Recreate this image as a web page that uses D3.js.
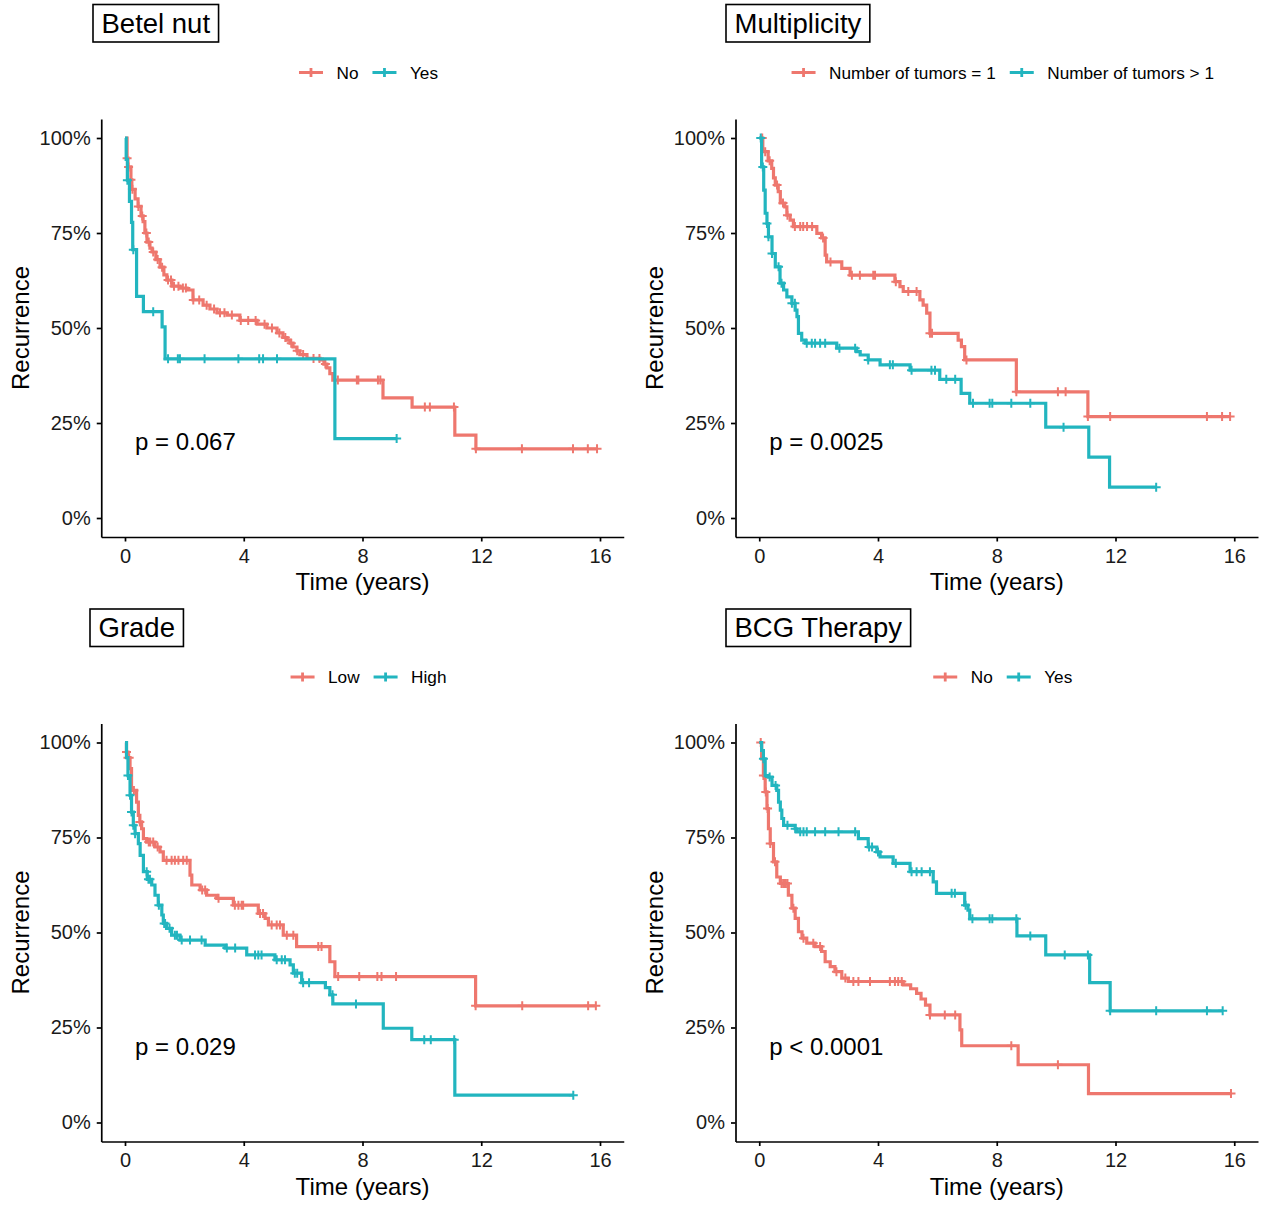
<!DOCTYPE html>
<html>
<head>
    <meta charset='utf-8'>
    <title>Recurrence curves</title>
    <style>
        body { margin: 0; background: #fff; }
        svg { display: block; font-family: "Liberation Sans", Arial, sans-serif; }
    </style>
</head>
<body>
<svg width="1269" height="1209"></svg>
<script src="https://d3js.org/d3.v7.min.js"></script>
<script>
    // step curves: start time of each step and the survival (%) after it,
    // plus the times of the censoring marks
    const betelNoT = [0, 0.07, 0.1, 0.2, 0.23, 0.34, 0.44, 0.54, 0.61, 0.67, 0.74, 0.84, 0.91, 1.04, 1.18, 1.31, 1.41, 1.58, 1.85, 2.09, 2.29, 2.63, 2.86, 3.1, 3.44, 3.87, 4.45, 4.78, 5.12, 5.32, 5.46, 5.56, 5.66, 5.79, 5.89, 6.13, 6.57, 6.7, 6.8, 6.9, 7.0, 8.69, 9.67, 11.11, 11.82]
    const betelNoS = [100, 94.7, 92.4, 89, 86.5, 84, 82, 79.5, 78, 75, 72.6, 71, 70, 68, 66, 64, 62.6, 61, 60.5, 60, 57.4, 56, 55, 54, 53.4, 52, 51, 50, 48.7, 47.5, 46.8, 46, 45, 44, 43, 42, 41.6, 40.5, 39.5, 38, 36.3, 31.6, 29.2, 21.8, 18.2]
    const betelNoCens = [0.07, 0.12, 0.2, 0.25, 0.45, 0.58, 0.72, 0.8, 0.95, 1.1, 1.25, 1.45, 1.55, 1.65, 1.8, 1.95, 2.05, 2.3, 2.5, 2.75, 3.0, 3.2, 3.35, 3.6, 3.9, 4.15, 4.4, 4.7, 4.95, 5.2, 5.4, 5.6, 5.8, 6.0, 6.35, 6.55, 6.75, 7.17, 7.81, 7.86, 8.52, 8.6, 10.1, 10.27, 11.08, 11.82, 13.37, 15.09, 15.59, 15.9]
    const betelYesT = [0, 0.04, 0.08, 0.15, 0.22, 0.26, 0.39, 0.62, 1.25, 1.35, 7.07]
    const betelYesS = [100, 94.4, 88.9, 83.3, 77.8, 70.6, 58.3, 54.3, 50.3, 41.9, 20.9]
    const betelYesCens = [0.08, 0.28, 0.95, 1.45, 1.78, 1.85, 2.68, 3.82, 4.52, 4.65, 5.12, 9.15]

    const multiOneT = [0, 0.12, 0.3, 0.42, 0.48, 0.54, 0.64, 0.71, 0.86, 0.93, 1.04, 1.15, 1.94, 2.1, 2.22, 2.27, 2.78, 3.06, 4.57, 4.74, 4.85, 5.41, 5.52, 5.64, 5.75, 6.7, 6.81, 6.92, 8.66, 11.07]
    const multiOneS = [100, 96.4, 94, 92, 89.5, 87.6, 85.9, 82.9, 81.9, 79.7, 78.4, 76.7, 74.9, 73.7, 69.2, 67.4, 65.7, 63.9, 62.2, 60.9, 59.6, 57.4, 56, 53.9, 48.6, 46.8, 45.1, 41.6, 33.2, 26.7]
    const multiOneCens = [0.1, 0.2, 0.35, 0.6, 0.8, 0.95, 1.2, 1.38, 1.48, 1.61, 1.78, 2.15, 2.4, 3.12, 3.39, 3.84, 3.9, 4.6, 5.02, 5.3, 5.75, 5.82, 6.98, 8.66, 10.06, 10.32, 11.07, 11.82, 15.08, 15.59, 15.86]
    const multiManyT = [0, 0.08, 0.15, 0.2, 0.26, 0.31, 0.43, 0.54, 0.7, 0.82, 0.93, 1.1, 1.21, 1.27, 1.32, 1.43, 1.55, 2.61, 3.28, 3.4, 3.67, 4.07, 5.08, 6.08, 6.8, 7.09, 9.65, 11.1, 11.8]
    const multiManyS = [100, 92.4, 86.3, 80.2, 77.5, 74, 69.6, 66.1, 61.8, 60, 58.2, 56.5, 54.7, 53, 48.6, 46.8, 46, 44.7, 43.8, 42.9, 41.6, 40.3, 38.9, 36.5, 32.8, 30.2, 23.9, 16, 8.1]
    const multiManyCens = [0.05, 0.12, 0.26, 0.31, 0.43, 0.65, 0.75, 1.1, 1.2, 1.6, 1.77, 1.88, 2.05, 2.22, 2.7, 3.23, 3.67, 4.4, 4.5, 5.13, 5.8, 5.92, 6.3, 6.6, 7.2, 7.76, 7.85, 8.49, 9.13, 10.25, 13.37]

    const gradeLowT = [0, 0.05, 0.1, 0.17, 0.22, 0.39, 0.45, 0.5, 0.56, 0.62, 0.73, 1.01, 1.18, 1.29, 2.19, 2.25, 2.53, 2.75, 3.09, 3.65, 4.49, 4.72, 4.83, 5.33, 5.78, 6.9, 7.07, 11.81]
    const gradeLowS = [100, 97.5, 96, 93.1, 87.4, 84.3, 80.8, 79.1, 77.3, 74.7, 73.8, 72.5, 71.2, 69, 65.1, 62.5, 61.2, 59.8, 59, 57.2, 55, 53.7, 52, 49.3, 46.3, 42.3, 38.4, 30.7]
    const gradeLowCens = [0.05, 0.1, 0.14, 0.3, 0.5, 0.8, 0.85, 0.95, 1.1, 1.4, 1.57, 1.68, 1.8, 1.96, 2.08, 2.6, 2.7, 3.15, 3.7, 3.82, 3.93, 3.98, 4.55, 4.65, 4.94, 5.11, 5.22, 5.45, 5.67, 6.51, 6.62, 7.18, 7.89, 8.5, 8.64, 9.13, 11.81, 13.38, 15.6, 15.86]
    const gradeHighT = [0, 0.05, 0.1, 0.17, 0.22, 0.28, 0.34, 0.45, 0.51, 0.62, 0.75, 0.9, 1.01, 1.12, 1.24, 1.29, 1.4, 1.57, 1.85, 2.7, 3.37, 4.1, 5.05, 5.56, 5.67, 5.95, 6.75, 6.9, 7.0, 8.7, 9.66, 11.11]
    const gradeHighS = [100, 96, 91.3, 86.1, 81.7, 78.2, 76, 73.4, 70.3, 66, 64, 62.5, 59.8, 57.2, 54.6, 52.4, 51.1, 49.3, 48, 46.7, 45.9, 44.1, 42.8, 41.5, 39.3, 36.8, 35.5, 33.6, 31.2, 24.8, 21.8, 7.2]
    const gradeHighCens = [0.1, 0.17, 0.22, 0.28, 0.34, 0.73, 0.79, 0.84, 1.14, 1.32, 1.35, 1.5, 1.68, 1.75, 1.91, 2.19, 2.58, 3.43, 3.71, 4.38, 4.49, 4.6, 5.11, 5.28, 5.39, 5.72, 5.8, 6.0, 6.2, 6.99, 7.78, 10.08, 10.3, 11.09, 15.1]

    const bcgNoT = [0, 0.08, 0.14, 0.2, 0.26, 0.31, 0.37, 0.48, 0.59, 0.71, 0.98, 1.1, 1.21, 1.32, 1.44, 1.6, 1.88, 2.1, 2.22, 2.39, 2.55, 2.78, 3.0, 4.85, 5.1, 5.3, 5.45, 5.6, 5.75, 6.76, 6.82, 8.72, 11.09]
    const bcgNoS = [100, 95.7, 91.3, 87, 82.6, 77.3, 73.4, 68.6, 64.6, 62.9, 59.8, 56.4, 53.7, 50.2, 48.5, 47.2, 46.3, 45, 42.3, 41, 39.7, 38, 37.1, 36.2, 35.2, 34, 32.5, 30.9, 28.3, 24.4, 20.2, 15.2, 7.6]
    const bcgNoCens = [0.05, 0.14, 0.22, 0.28, 0.37, 0.53, 0.75, 0.82, 0.88, 0.95, 1.15, 1.49, 1.82, 2.05, 2.6, 2.9, 3.17, 3.34, 3.73, 4.4, 4.57, 4.68, 4.8, 5.75, 6.25, 6.6, 8.49, 10.06, 15.89]
    const bcgYesT = [0, 0.08, 0.14, 0.2, 0.31, 0.43, 0.59, 0.65, 0.71, 0.76, 0.82, 1.21, 1.27, 3.34, 3.67, 3.96, 4.07, 4.51, 5.08, 5.86, 5.97, 6.92, 7.03, 7.09, 8.68, 9.65, 11.13, 11.82]
    const bcgYesS = [100, 97.9, 95.7, 91.3, 90.9, 88.7, 87.4, 84.3, 82.2, 80, 78.2, 77.3, 76.5, 74.7, 72.5, 71.2, 69.9, 68.2, 66, 63.3, 60.3, 57.2, 55.9, 53.6, 49.1, 44.1, 36.8, 29.4]
    const bcgYesCens = [0.14, 0.35, 0.55, 0.95, 1.21, 1.38, 1.49, 1.6, 1.88, 2.22, 2.67, 3.23, 3.7, 3.8, 4.0, 4.6, 5.13, 5.3, 5.47, 5.75, 6.48, 6.59, 6.95, 7.18, 7.76, 7.85, 8.66, 9.13, 10.29, 11.07, 11.82, 13.37, 15.08, 15.61]

    const titles = ["Betel nut", "Multiplicity", "Grade", "BCG Therapy"]
    const groupLabels = [["No", "Yes"], ["Number of tumors = 1", "Number of tumors > 1"], ["Low", "High"], ["No", "Yes"]]
    const pLabels = ["p = 0.067", "p = 0.0025", "p = 0.029", "p < 0.0001"]
    const xTicks = [0, 4, 8, 12, 16]
    const yTicks = [0, 0.25, 0.5, 0.75, 1]

    const colors = ["#EE776E", "#22B5BF"]
    const font = "\"Liberation Sans\", Arial, sans-serif"

    const panels = [
        {curves: [[betelNoT, betelNoS, betelNoCens], [betelYesT, betelYesS, betelYesCens]], col: 0, row: 0, boxX: 93},
        {curves: [[multiOneT, multiOneS, multiOneCens], [multiManyT, multiManyS, multiManyCens]], col: 1, row: 0, boxX: 726},
        {curves: [[gradeLowT, gradeLowS, gradeLowCens], [gradeHighT, gradeHighS, gradeHighCens]], col: 0, row: 1, boxX: 90},
        {curves: [[bcgNoT, bcgNoS, bcgNoCens], [bcgYesT, bcgYesS, bcgYesCens]], col: 1, row: 1, boxX: 726}
    ]

    const svg = d3.select("svg")

    const stepValue = (T, S, t) => {
        let v = S[0]
        T.forEach((tt, i) => { if (tt <= t) v = S[i] })
        return v
    }

    const plus = (x, y, r) => `M${x - r},${y}H${x + r}M${x},${y - r}V${y + r}`

    panels.forEach((p, i) => {
        const xLeft = p.col === 0 ? 101.25 : 735.5
        const dy = p.row === 0 ? 0 : 604.5
        const x = d3.scaleLinear().domain([-0.8, 16.8]).range([xLeft, xLeft + 522.5])
        const y = d3.scaleLinear().domain([-0.05, 1.05]).range([537 + dy, 119 + dy])
        const g = svg.append("g")

        // title box
        const title = g.append("text")
            .attr("x", p.boxX + 8.5)
            .attr("y", 23 + dy)
            .attr("dy", "0.35em")
            .attr("font-size", 27.5)
            .attr("font-family", font)
            .text(titles[i])
        const tw = title.node().getComputedTextLength()
        g.insert("rect", "text")
            .attr("x", p.boxX)
            .attr("y", 4.5 + dy)
            .attr("width", tw + 17)
            .attr("height", 37.5)
            .attr("fill", "none")
            .attr("stroke", "#000")
            .attr("stroke-width", 1.6)

        // legend
        const lg = g.append("g")
        let lx = 0
        groupLabels[i].forEach((label, k) => {
            lg.append("path")
                .attr("d", `M${lx},0H${lx + 24}` + plus(lx + 12, 0, 4.5))
                .attr("stroke", colors[k])
                .attr("stroke-width", 2.8)
                .attr("fill", "none")
            const t = lg.append("text")
                .attr("x", lx + 37.5)
                .attr("dy", "0.35em")
                .attr("font-size", 17.2)
                .attr("font-family", font)
                .text(label)
            lx += 37.5 + t.node().getComputedTextLength() + 14
        })
        const legendW = lx - 14
        const center = (x.range()[0] + x.range()[1]) / 2 + 6
        lg.attr("transform", `translate(${center - legendW / 2},${72.5 + dy})`)

        // axes
        const xAxis = g.append("g")
            .attr("transform", `translate(0,${537 + dy})`)
            .call(d3.axisBottom(x).tickValues(xTicks).tickSize(4.5).tickPadding(7).tickSizeOuter(0))
        const yAxis = g.append("g")
            .attr("transform", `translate(${xLeft},0)`)
            .call(d3.axisLeft(y).tickValues(yTicks).tickFormat(d3.format(".0%")).tickSize(4.5).tickPadding(6).tickSizeOuter(0))
        ;[xAxis, yAxis].forEach(a => {
            a.selectAll("path, line").attr("stroke", "#000").attr("stroke-width", 1.7)
            a.selectAll("text").attr("font-size", 20).attr("font-family", font).attr("fill", "#1a1a1a")
        })

        g.append("text")
            .attr("x", (x.range()[0] + x.range()[1]) / 2)
            .attr("y", 582 + dy)
            .attr("dy", "0.35em")
            .attr("text-anchor", "middle")
            .attr("font-size", 24)
            .attr("font-family", font)
            .text("Time (years)")

        g.append("text")
            .attr("transform", `translate(${xLeft - 81},${(y(0) + y(1)) / 2}) rotate(-90)`)
            .attr("dy", "0.35em")
            .attr("text-anchor", "middle")
            .attr("font-size", 24)
            .attr("font-family", font)
            .text("Recurrence")

        g.append("text")
            .attr("x", x(0) + 10)
            .attr("y", y(0.2))
            .attr("dy", "0.35em")
            .attr("font-size", 24)
            .attr("font-family", font)
            .text(pLabels[i])

        // curves
        const line = d3.line()
            .x(d => x(d[0]))
            .y(d => y(d[1] / 100))
            .curve(d3.curveStepAfter)

        p.curves.forEach(([T, S, C], k) => {
            const end = Math.max(T[T.length - 1], C[C.length - 1])
            const pts = T.map((t, j) => [t, S[j]])
            pts.push([end, S[S.length - 1]])
            g.append("path")
                .attr("d", line(pts))
                .attr("fill", "none")
                .attr("stroke", colors[k])
                .attr("stroke-width", 3.2)
            g.append("path")
                .attr("d", C.map(t => plus(x(t), y(stepValue(T, S, t) / 100), 4.5)).join(""))
                .attr("fill", "none")
                .attr("stroke", colors[k])
                .attr("stroke-width", 2)
        })
    })
</script>
</body>
</html>
